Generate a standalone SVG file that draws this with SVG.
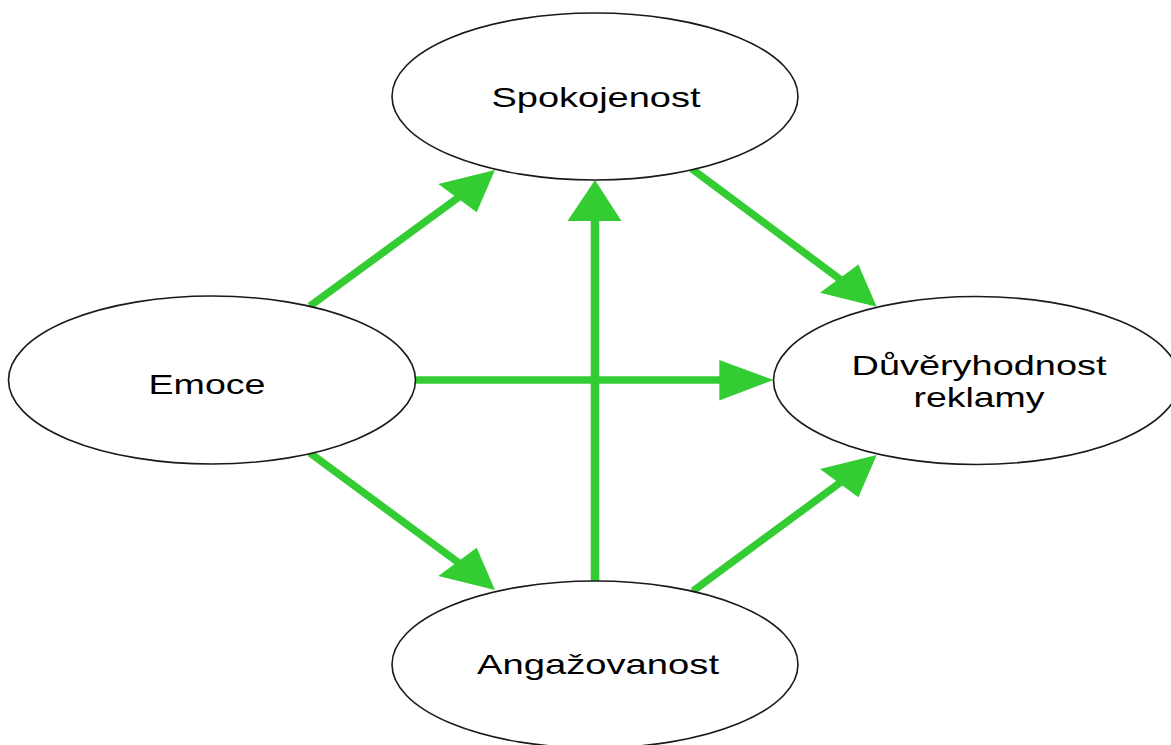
<svg xmlns="http://www.w3.org/2000/svg" width="1171" height="745" viewBox="0 0 1171 745">
<style>
.node{fill:#ffffff;stroke:#1a1a1a;stroke-width:1.6}
.lbl{font-family:"Liberation Sans",Arial,sans-serif;font-size:28px;fill:#000000;text-anchor:middle}
.edge{stroke:#33cc33;stroke-width:7.5;fill:none}
.head{fill:#33cc33;stroke:none}
</style>
<rect width="1171" height="745" fill="#ffffff"/>
<g id="connectors">
<line class="edge" x1="310" y1="306" x2="459" y2="197"/>
<polygon class="head" points="495,170 438.3,184 476.7,212.3"/>
<line class="edge" x1="595" y1="582" x2="595" y2="218" style="stroke-width:8.5"/>
<polygon class="head" points="595,180 567.5,221 621.5,221"/>
<line class="edge" x1="692" y1="169" x2="841" y2="280"/>
<polygon class="head" points="876.7,306.7 820,292.7 858.4,264.4"/>
<line class="edge" x1="416" y1="380" x2="722" y2="380"/>
<polygon class="head" points="773.5,380 719.3,360 719.3,400.5"/>
<line class="edge" x1="310" y1="453" x2="459" y2="563"/>
<polygon class="head" points="495,590 438.3,576 476.7,547.7"/>
<line class="edge" x1="693" y1="591" x2="841" y2="482"/>
<polygon class="head" points="876.7,455 820,469 858.4,497.3"/>
</g>
<g id="spokojenost">
<ellipse class="node" cx="595" cy="96.5" rx="203" ry="83.5"/>
<text class="lbl" x="596" y="106.5" textLength="209" lengthAdjust="spacingAndGlyphs">Spokojenost</text>
</g>
<g id="emoce">
<ellipse class="node" cx="212" cy="380" rx="203.5" ry="84"/>
<text class="lbl" x="207" y="394" textLength="117" lengthAdjust="spacingAndGlyphs">Emoce</text>
</g>
<g id="duveryhodnost">
<ellipse class="node" cx="976.5" cy="380.5" rx="203" ry="84"/>
<text class="lbl" x="979" y="375" textLength="255" lengthAdjust="spacingAndGlyphs">Důvěryhodnost</text>
<text class="lbl" x="979" y="407" textLength="131" lengthAdjust="spacingAndGlyphs">reklamy</text>
</g>
<g id="angazovanost">
<ellipse class="node" cx="595" cy="664.5" rx="203" ry="83.5"/>
<text class="lbl" x="598" y="673.5" textLength="242" lengthAdjust="spacingAndGlyphs">Angažovanost</text>
</g>
</svg>
